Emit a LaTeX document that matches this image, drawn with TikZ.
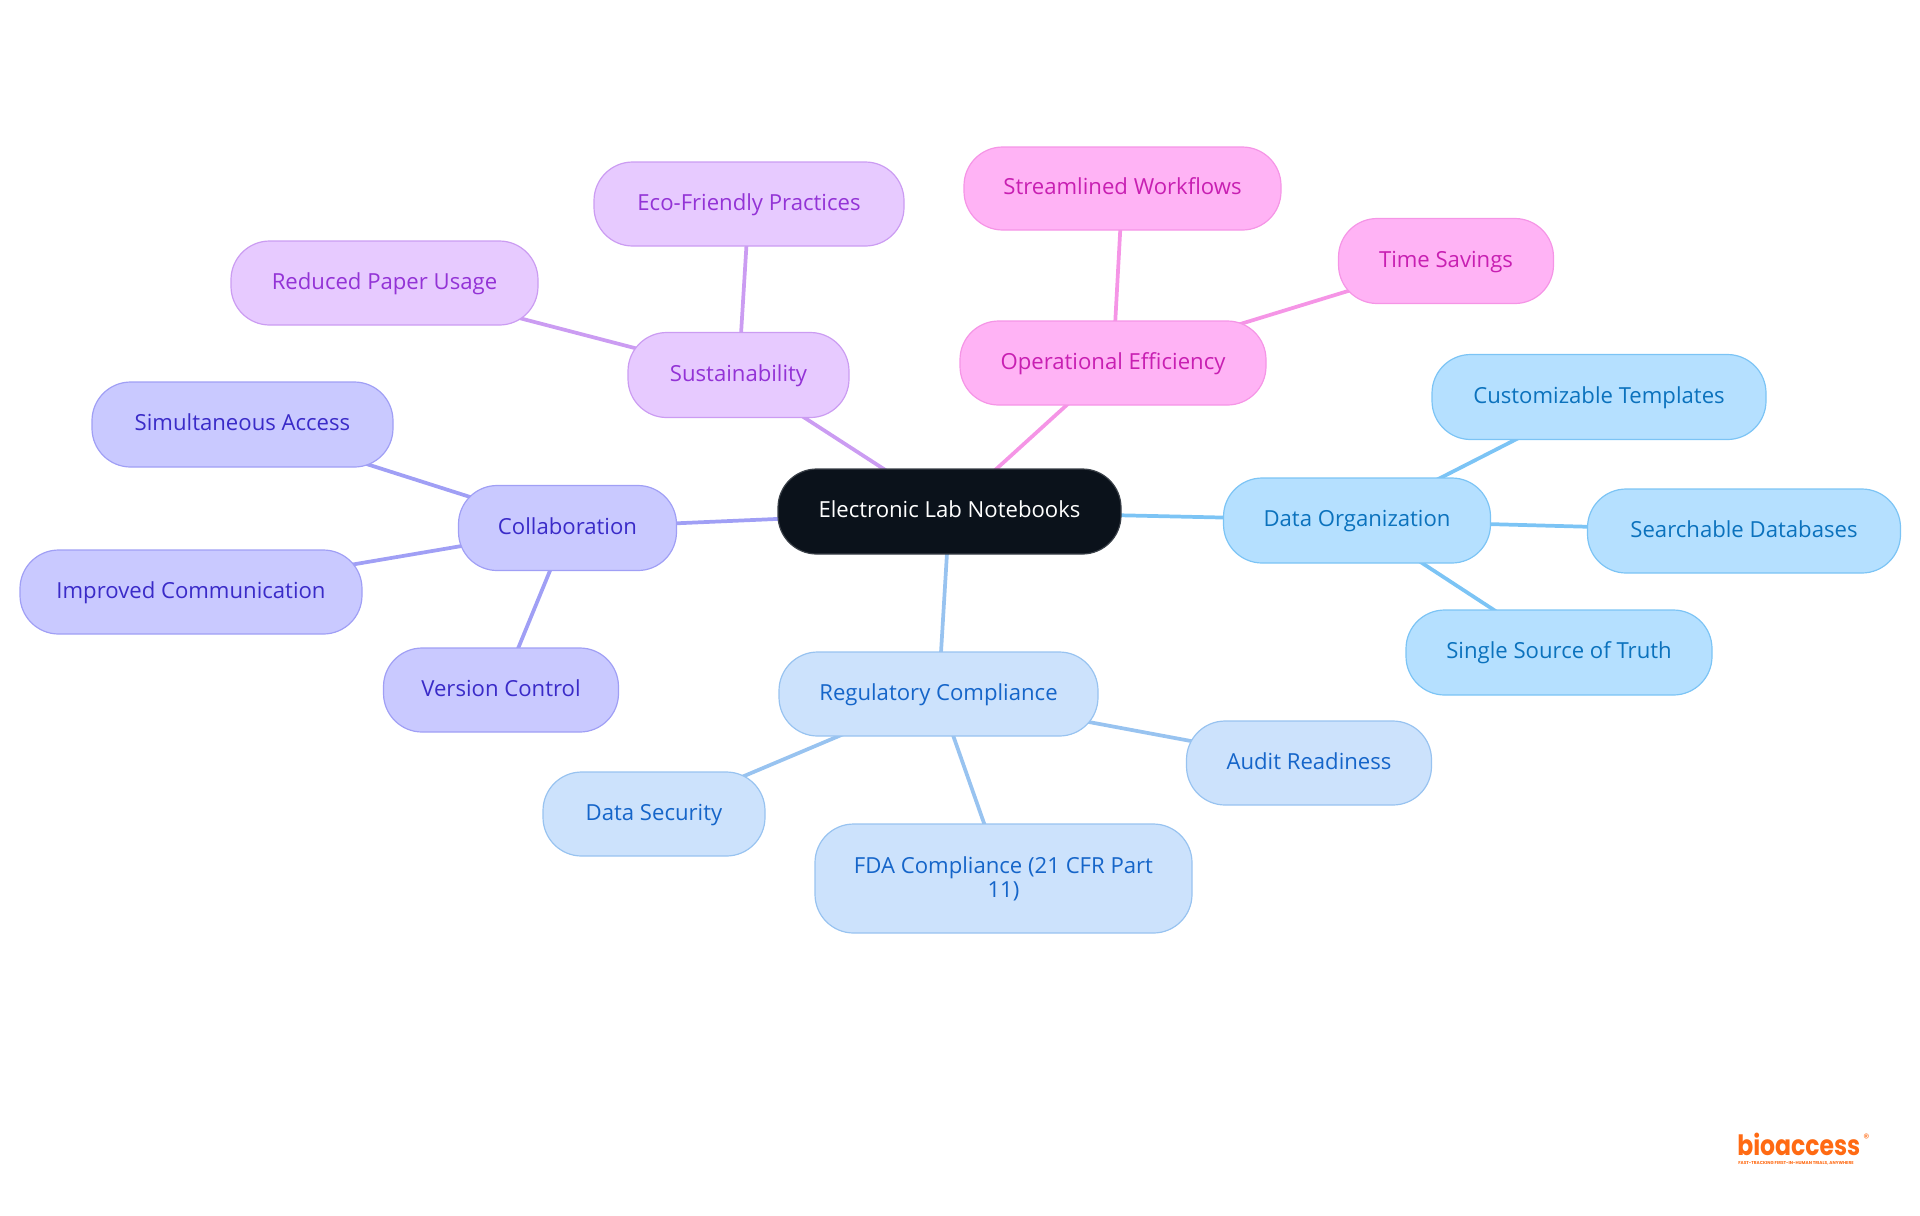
\documentclass[tikz,border=0pt]{standalone}
\usepackage{fontspec}
\setmainfont{Open Sans}
\newfontfamily\logofont{Poppins}[UprightFont=* Bold]
\newfontfamily\markfont{Poppins}
\usetikzlibrary{backgrounds}
\definecolor{rootF}{HTML}{0B121B}\definecolor{rootD}{HTML}{3A4048}
\definecolor{regF}{HTML}{CCE2FC}\definecolor{regD}{HTML}{98C3F0}\definecolor{regT}{HTML}{1565C9}
\definecolor{orgF}{HTML}{B5E0FF}\definecolor{orgD}{HTML}{7CC4F5}\definecolor{orgT}{HTML}{0B72BD}
\definecolor{effF}{HTML}{FFB3F5}\definecolor{effD}{HTML}{F595E6}\definecolor{effT}{HTML}{C81FB2}
\definecolor{susF}{HTML}{E7CAFF}\definecolor{susD}{HTML}{CB9CF2}\definecolor{susT}{HTML}{9333D6}
\definecolor{colF}{HTML}{C9C9FF}\definecolor{colD}{HTML}{A09FF5}\definecolor{colT}{HTML}{3A2BC8}
\definecolor{logoC}{HTML}{FF6A13}
\tikzset{
  x=0.75pt,y=-0.75pt,
  box/.style={rectangle,rounded corners=29pt,inner sep=0pt,line width=0.9pt,font=\fontsize{16.6}{18}\selectfont,align=center},
  one/.style={text height=13pt,text depth=3.5pt},
  rootbox/.style={box,one,fill=rootF,draw=rootD,text=white},
  regbox/.style={box,fill=regF,draw=regD,text=regT},
  orgbox/.style={box,one,fill=orgF,draw=orgD,text=orgT},
  effbox/.style={box,one,fill=effF,draw=effD,text=effT},
  susbox/.style={box,one,fill=susF,draw=susD,text=susT},
  colbox/.style={box,one,fill=colF,draw=colD,text=colT},
  link/.style={line width=2.8pt},
  logotext/.style={anchor=base west,inner sep=0pt,text=logoC},
}
\begin{document}
\begin{tikzpicture}
\useasboundingbox (0,0) rectangle (1920,1215);
\node[rootbox,minimum width=257.25pt,minimum height=63.75pt] (root) at (949.5,511.5) {Electronic Lab Notebooks};
\node[regbox,one,minimum width=239.25pt,minimum height=63pt] (reg) at (938.5,694) {Regulatory Compliance};
\node[regbox,minimum width=282.75pt,minimum height=81.75pt] (fda) at (1003.5,878.5) {FDA Compliance (21 CFR Part\\11)};
\node[regbox,one,minimum width=183.75pt,minimum height=63pt] (audit) at (1309,763) {Audit Readiness};
\node[regbox,one,minimum width=166.5pt,minimum height=63pt] (sec) at (654,814) {Data Security};
\node[orgbox,minimum width=200.25pt,minimum height=63.75pt] (org) at (1357,520.5) {Data Organization};
\node[orgbox,minimum width=250.5pt,minimum height=63.75pt] (cust) at (1599,397) {Customizable Templates};
\node[orgbox,minimum width=234.75pt,minimum height=63pt] (search) at (1744,531) {Searchable Databases};
\node[orgbox,minimum width=229.5pt,minimum height=63.75pt] (single) at (1559,652.5) {Single Source of Truth};
\node[effbox,minimum width=229.5pt,minimum height=63pt] (eff) at (1113,363) {Operational Efficiency};
\node[effbox,minimum width=237.75pt,minimum height=62.25pt] (flow) at (1122.5,188.5) {Streamlined Workflows};
\node[effbox,minimum width=161.25pt,minimum height=63.75pt] (time) at (1446,261) {Time Savings};
\node[susbox,minimum width=165.75pt,minimum height=63.75pt] (sus) at (738.5,375) {Sustainability};
\node[susbox,minimum width=232.5pt,minimum height=63pt] (eco) at (749,204) {Eco-Friendly Practices};
\node[susbox,minimum width=230.25pt,minimum height=63pt] (paper) at (384.5,283) {Reduced Paper Usage};
\node[colbox,minimum width=163.5pt,minimum height=63.75pt] (col) at (567.5,528) {Collaboration};
\node[colbox,minimum width=225.75pt,minimum height=63.75pt] (sim) at (242.5,424.5) {Simultaneous Access};
\node[colbox,minimum width=256.5pt,minimum height=63pt] (imp) at (191,592) {Improved Communication};
\node[colbox,minimum width=176.25pt,minimum height=63pt] (ver) at (501,690) {Version Control};
\begin{scope}[on background layer]
\draw[link,draw=regD] (root.center) -- (reg.center);
\draw[link,draw=regD] (reg.center) -- (fda.center);
\draw[link,draw=regD] (reg.center) -- (audit.center);
\draw[link,draw=regD] (reg.center) -- (sec.center);
\draw[link,draw=orgD] (root.center) -- (org.center);
\draw[link,draw=orgD] (org.center) -- (cust.center);
\draw[link,draw=orgD] (org.center) -- (search.center);
\draw[link,draw=orgD] (org.center) -- (single.center);
\draw[link,draw=effD] (root.center) -- (eff.center);
\draw[link,draw=effD] (eff.center) -- (flow.center);
\draw[link,draw=effD] (eff.center) -- (time.center);
\draw[link,draw=susD] (root.center) -- (sus.center);
\draw[link,draw=susD] (sus.center) -- (eco.center);
\draw[link,draw=susD] (sus.center) -- (paper.center);
\draw[link,draw=colD] (root.center) -- (col.center);
\draw[link,draw=colD] (col.center) -- (sim.center);
\draw[link,draw=colD] (col.center) -- (imp.center);
\draw[link,draw=colD] (col.center) -- (ver.center);
\end{scope}
\node[logotext,font=\logofont\fontsize{21}{21}\selectfont] (logo) at (1737,1155) {\scalebox{0.84}[1]{bioaccess}};
\node[logotext,font=\markfont\fontsize{9}{9}\selectfont] (regmark) at (1863,1142) {®};
\node[logotext,font=\logofont\fontsize{3.2}{3.2}\selectfont] (tag) at (1738,1164) {FAST-TRACKING FIRST-IN-HUMAN TRIALS, ANYWHERE};
\end{tikzpicture}
\end{document}
